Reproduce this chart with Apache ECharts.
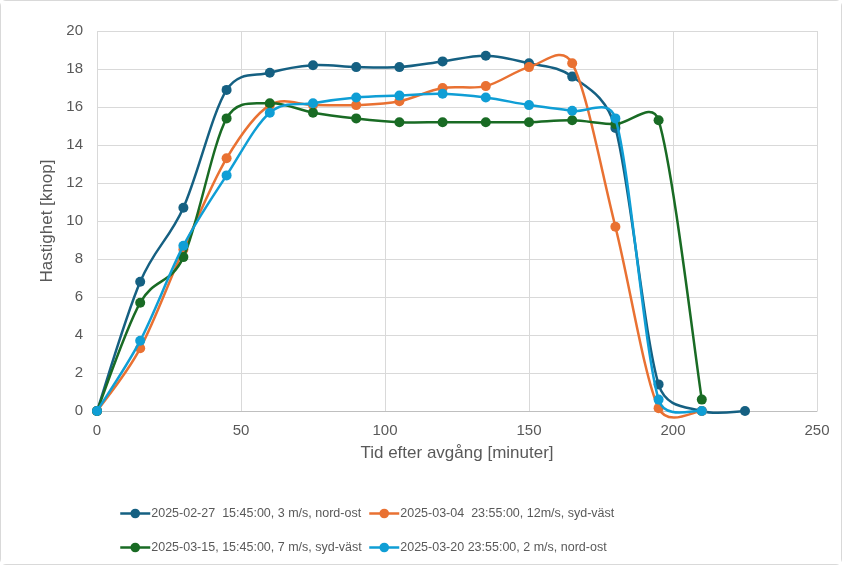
<!DOCTYPE html>
<html>
<head>
<meta charset="utf-8">
<script src="https://cdn.jsdelivr.net/npm/echarts@6/dist/echarts.min.js"></script>
<style>
  html, body { margin: 0; padding: 0; background: #fff; }
  #chart { position: absolute; left: 0; top: 0; width: 840px; height: 563px;
           border: 1px solid #d9d9d9; border-radius: 6px; }
</style>
</head>
<body>
<div id="chart"></div>
<script>
// Minutes after departure, sampled every 15 minutes
const minutes = [0, 15, 30, 45, 60, 75, 90, 105, 120, 135, 150, 165, 180, 195, 210, 225];

const names = [
  '2025-02-27  15:45:00, 3 m/s, nord-ost',
  '2025-03-04  23:55:00, 12m/s, syd-väst',
  '2025-03-15, 15:45:00, 7 m/s, syd-väst',
  '2025-03-20 23:55:00, 2 m/s, nord-ost'
];

// Speed in knots for each trip
const speedFeb27 = [0, 6.8, 10.7, 16.9, 17.8, 18.2, 18.1, 18.1, 18.4, 18.7, 18.3, 17.6, 14.9, 1.4, 0, 0];
const speedMar04 = [0, 3.3, 8.5, 13.3, 16.1, 16.1, 16.1, 16.3, 17.0, 17.1, 18.1, 18.3, 9.7, 0.15, 0];
const speedMar15 = [0, 5.7, 8.1, 15.4, 16.2, 15.7, 15.4, 15.2, 15.2, 15.2, 15.2, 15.3, 15.1, 15.3, 0.6];
const speedMar20 = [0, 3.7, 8.7, 12.4, 15.7, 16.2, 16.5, 16.6, 16.7, 16.5, 16.1, 15.8, 15.4, 0.6, 0];

const colors = ['#156082', '#E97132', '#196B24', '#0F9ED5'];
const allSpeeds = [speedFeb27, speedMar04, speedMar15, speedMar20];

const font = '"Liberation Sans", Arial, sans-serif';

// Smoothed curve: each item draws the bezier segment to the next point.
// Tangents come from neighbouring points (1/6 of the chord), capped at half
// the segment length so steep drops don't overshoot too far.
function curveRenderer(color) {
  return function (params, api) {
    const i = params.dataIndexInside;
    const n = params.dataInsideLength;
    if (i >= n - 1) return null;
    const pt = k => {
      const kk = Math.max(0, Math.min(n - 1, k));
      return api.coord([api.value(0, kk), api.value(1, kk)]);
    };
    const dist = (a, b) => Math.hypot(a[0] - b[0], a[1] - b[1]);
    const p0 = pt(i - 1), p1 = pt(i), p2 = pt(i + 1), p3 = pt(i + 2);
    const d12 = dist(p1, p2), d02 = dist(p0, p2), d13 = dist(p1, p3);
    let f0 = 1 / 6, f1 = 1 / 6;
    if (d02 / 6 >= d12 / 2 && d02 > 0) f0 = d12 / d02 / 2;
    if (d13 / 6 >= d12 / 2 && d13 > 0) f1 = d12 / d13 / 2;
    const c1 = [p1[0] + (p2[0] - p0[0]) * f0, p1[1] + (p2[1] - p0[1]) * f0];
    const c2 = [p2[0] - (p3[0] - p1[0]) * f1, p2[1] - (p3[1] - p1[1]) * f1];
    return {
      type: 'bezierCurve',
      shape: { x1: p1[0], y1: p1[1], x2: p2[0], y2: p2[1],
               cpx1: c1[0], cpy1: c1[1], cpx2: c2[0], cpy2: c2[1] },
      style: { stroke: color, lineWidth: 2.5, fill: null, lineCap: 'round' },
      silent: true
    };
  };
}

const series = [];
allSpeeds.forEach((vals, i) => {
  const data = vals.map((v, k) => [minutes[k], v]);
  series.push({
    name: 'kurva ' + (i + 1),
    type: 'custom',
    renderItem: curveRenderer(colors[i]),
    color: colors[i],
    data: data,
    z: 2 + i * 2,
    clip: false
  });
  series.push({
    name: names[i],
    type: 'line',
    symbol: 'circle',
    symbolSize: 10,
    color: colors[i],
    lineStyle: { width: 2.5, color: colors[i], opacity: 0 },
    itemStyle: { color: colors[i] },
    data: data,
    z: 3 + i * 2
  });
});

const legendPos = [
  { left: 118, top: 506 },
  { left: 367, top: 506 },
  { left: 118, top: 540 },
  { left: 367, top: 540 }
];

const chart = echarts.init(document.getElementById('chart'), null, { renderer: 'canvas' });
chart.setOption({
  animation: false,
  backgroundColor: '#fff',
  textStyle: { fontFamily: font },
  grid: { left: 96, right: 24, top: 30, bottom: 153 },
  legend: names.map((n, i) => ({
    data: [n],
    left: legendPos[i].left,
    top: legendPos[i].top,
    padding: 0,
    itemWidth: 30,
    itemHeight: 12,
    itemGap: 4,
    itemStyle: { color: colors[i] },
    lineStyle: { color: colors[i], opacity: 1, width: 2.5 },
    textStyle: { fontFamily: font, fontSize: 12.5, color: '#595959', padding: [0, 0, 0, -4] }
  })),
  xAxis: {
    type: 'value',
    min: 0, max: 250, interval: 50,
    name: 'Tid efter avgång [minuter]',
    nameLocation: 'middle',
    nameGap: 34,
    nameTextStyle: { fontFamily: font, fontSize: 17, color: '#595959' },
    axisLine: { show: true, lineStyle: { color: '#bfbfbf', width: 1 } },
    axisTick: { show: false },
    axisLabel: { fontFamily: font, fontSize: 15, color: '#595959', margin: 12 },
    splitLine: { show: true, lineStyle: { color: '#d9d9d9', width: 1 } }
  },
  yAxis: {
    type: 'value',
    min: 0, max: 20, interval: 2,
    name: 'Hastighet [knop]',
    nameLocation: 'middle',
    nameGap: 40,
    nameRotate: 90,
    nameTextStyle: { fontFamily: font, fontSize: 17, color: '#595959' },
    axisLine: { show: false },
    axisTick: { show: false },
    axisLabel: { fontFamily: font, fontSize: 15, color: '#595959', margin: 14 },
    splitLine: { show: true, lineStyle: { color: '#d9d9d9', width: 1 } }
  },
  series: series
});
</script>
</body>
</html>
